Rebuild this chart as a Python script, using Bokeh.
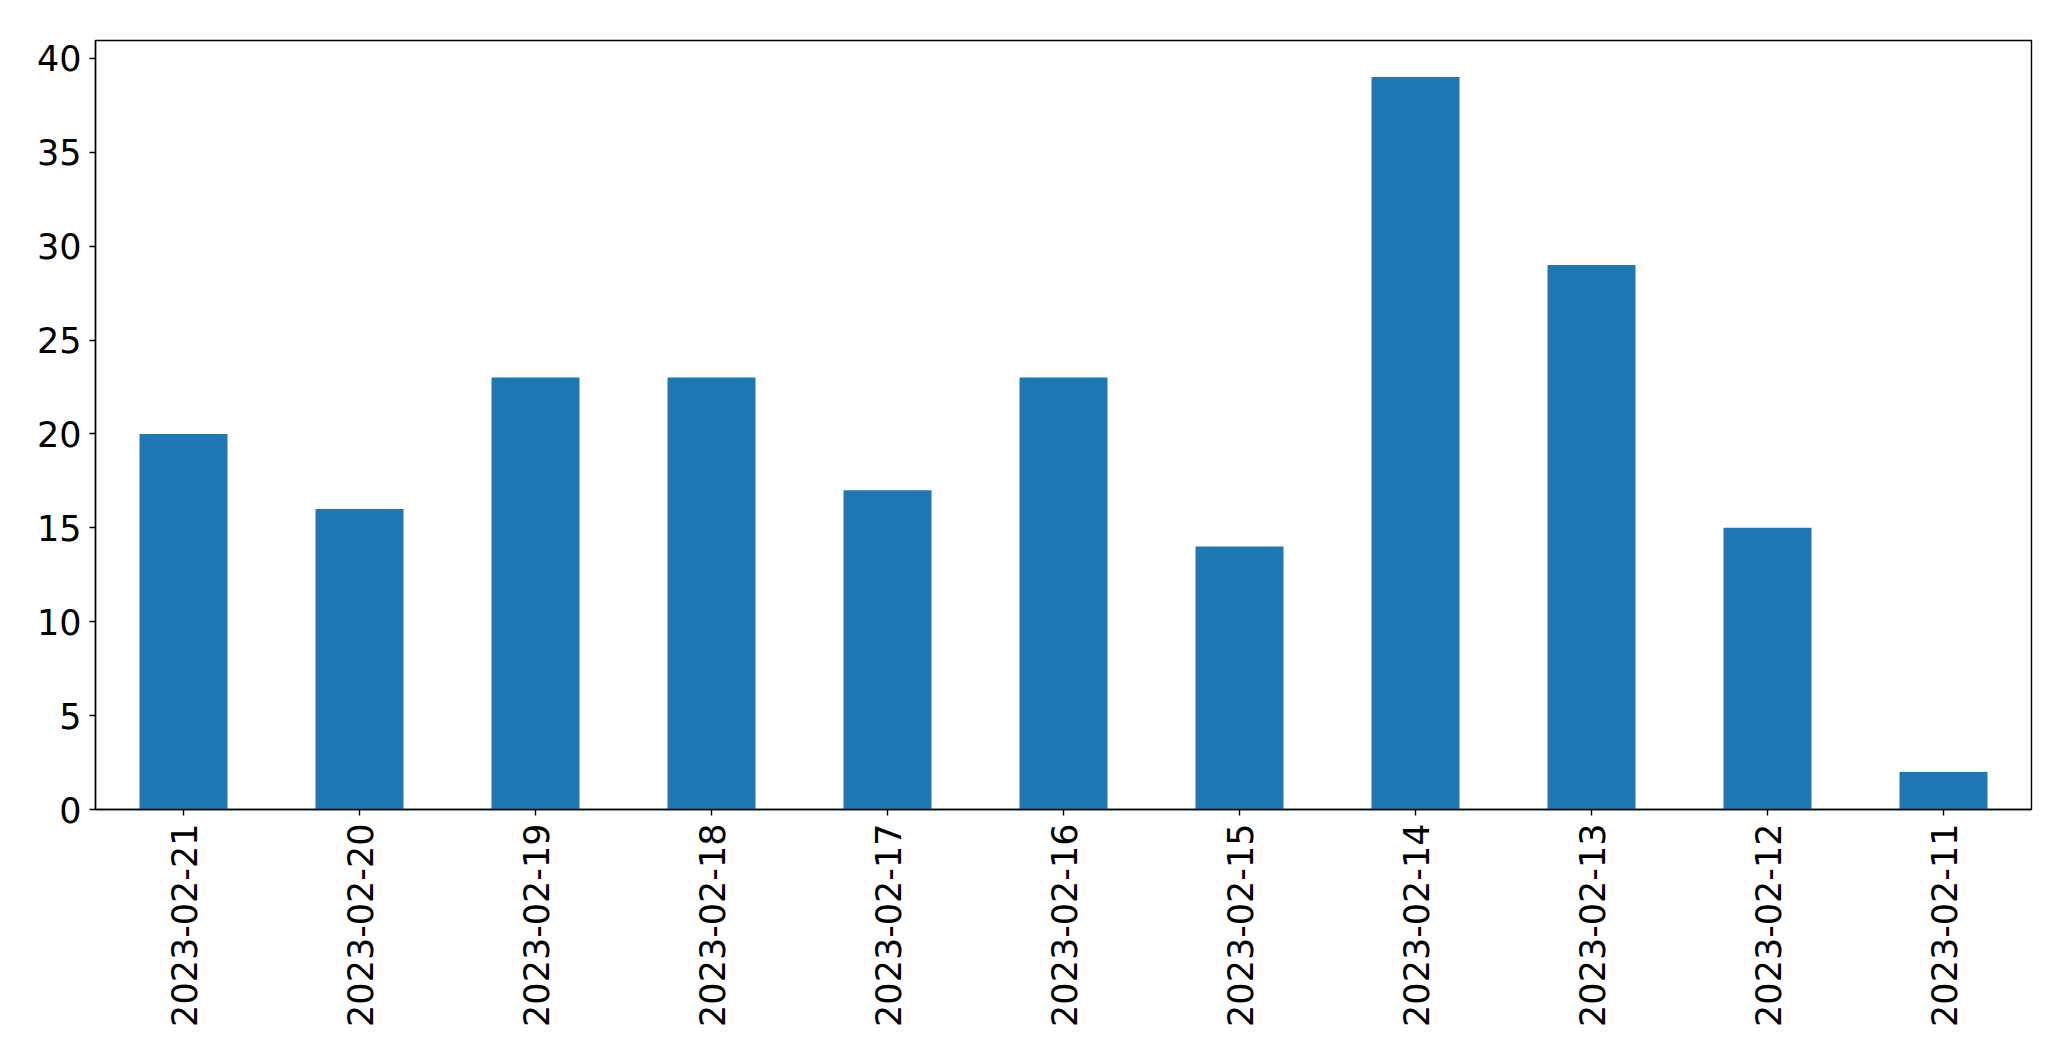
import math
from bokeh.plotting import figure
from bokeh.models import Range1d, ColumnDataSource
from bokeh.embed import file_html
from bokeh.resources import INLINE

dates = ["2023-02-21", "2023-02-20", "2023-02-19", "2023-02-18", "2023-02-17",
         "2023-02-16", "2023-02-15", "2023-02-14", "2023-02-13", "2023-02-12", "2023-02-11"]
counts = [20, 16, 23, 23, 17, 23, 14, 39, 29, 15, 2]

src = ColumnDataSource(data=dict(x=dates, top=counts))

p = figure(x_range=dates, y_range=Range1d(0, max(counts) * 1.05),
           width=2063, height=1053, output_backend="svg", toolbar_location=None,
           min_border_left=95, min_border_top=40, min_border_right=32, min_border_bottom=244)

p.vbar(x="x", top="top", width=0.5, source=src, color="#1f77b4", line_color=None)

p.xgrid.grid_line_color = None
p.ygrid.grid_line_color = None
p.outline_line_color = "black"
p.outline_line_width = 1.4
p.outline_line_alpha = 1.0

for ax in (p.xaxis, p.yaxis):
    ax.axis_line_color = "black"
    ax.axis_line_width = 1.4
    ax.major_tick_line_color = "black"
    ax.major_tick_line_width = 1.4
    ax.major_tick_in = 0
    ax.major_tick_out = 6
    ax.minor_tick_line_color = None
    ax.major_label_text_font = "DejaVu Sans"
    ax.major_label_text_font_size = "35px"
    ax.major_label_text_color = "black"

p.yaxis.ticker = [0, 5, 10, 15, 20, 25, 30, 35, 40]
p.yaxis.major_label_standoff = 8
p.xaxis.major_label_orientation = math.pi / 2
p.xaxis.major_label_standoff = 8

open("out.html", "w").write(file_html(p, INLINE))
